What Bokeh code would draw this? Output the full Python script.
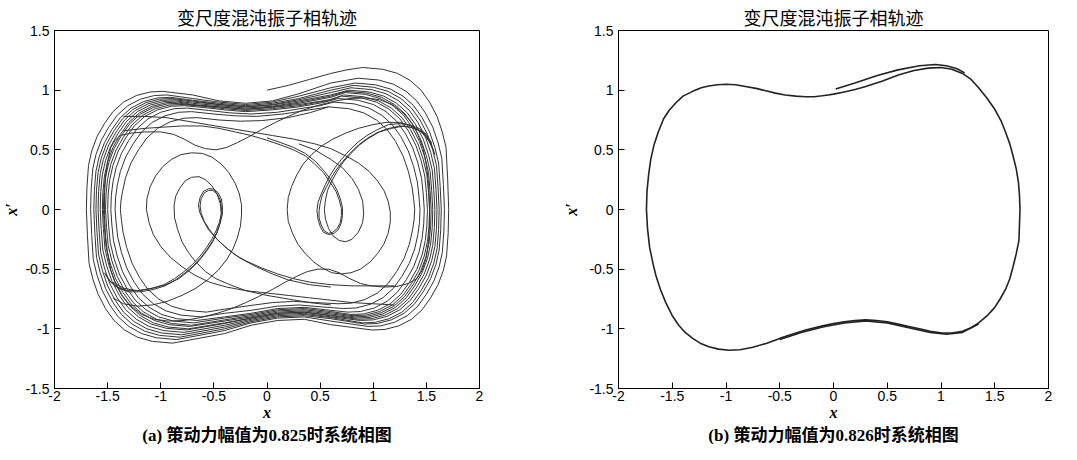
from bokeh.plotting import figure
from bokeh.models import Range1d, FixedTicker, Title
from bokeh.layouts import row
from bokeh.embed import file_html
from bokeh.resources import INLINE

# ---------------- data ----------------
chart_title = "变尺度混沌振子相轨迹"
caption_a = "(a) 策动力幅值为0.825时系统相图"
caption_b = "(b) 策动力幅值为0.826时系统相图"
x_label = "x"
y_label = "x′"
x_ticks = [-2, -1.5, -1, -0.5, 0, 0.5, 1, 1.5, 2]
x_tick_labels = ["-2", "-1.5", "-1", "-0.5", "0", "0.5", "1", "1.5", "2"]
y_ticks = [-1.5, -1, -0.5, 0, 0.5, 1, 1.5]
y_tick_labels = ["-1.5", "-1", "-0.5", "0", "0.5", "1", "1.5"]

# (a) amplitude 0.825 -- chaotic trajectory (x, x')
a_start = [(0.0, 1.0), (0.2, 1.04), (0.4, 1.09), (0.6, 1.14), (0.75, 1.17), (0.9, 1.19)]
a_band_1 = [(0.90, 1.19), (1.09, 1.175), (1.23, 1.14), (1.35, 1.08), (1.45, 1.00), (1.53, 0.90), (1.60, 0.78),
            (1.65, 0.65), (1.685, 0.52), (1.70, 0.26), (1.71, 0.0), (1.705, -0.2), (1.69, -0.39), (1.66, -0.51),
            (1.61, -0.63), (1.54, -0.74), (1.46, -0.84), (1.36, -0.92), (1.24, -0.975), (1.11, -1.005),
            (0.99, -1.01), (0.6, -0.965), (0.35, -0.92), (0.1, -0.93), (-0.15, -0.97), (-0.4, -1.04),
            (-0.89, -1.12), (-1.08, -1.105), (-1.22, -1.07), (-1.34, -1.01), (-1.44, -0.93), (-1.52, -0.83),
            (-1.59, -0.71), (-1.64, -0.58), (-1.675, -0.45), (-1.69, -0.22), (-1.70, 0.0), (-1.695, 0.18),
            (-1.68, 0.37), (-1.65, 0.49), (-1.60, 0.61), (-1.53, 0.72), (-1.45, 0.82), (-1.35, 0.90),
            (-1.23, 0.955), (-1.10, 0.985), (-0.98, 0.99), (-0.7, 0.96), (-0.45, 0.91), (-0.2, 0.89),
            (0.05, 0.91), (0.3, 0.97), (0.6, 1.06), (0.86, 1.10)]
a_band_2 = [(0.86, 1.10), (1.05, 1.085), (1.19, 1.05), (1.31, 0.99), (1.41, 0.91), (1.49, 0.81), (1.56, 0.69),
            (1.61, 0.56), (1.645, 0.43), (1.66, 0.21), (1.67, 0.0), (1.665, -0.18), (1.65, -0.36), (1.62, -0.48),
            (1.57, -0.60), (1.50, -0.71), (1.42, -0.81), (1.32, -0.89), (1.20, -0.945), (1.07, -0.975),
            (0.95, -0.98), (0.6, -0.935), (0.35, -0.90), (0.1, -0.91), (-0.15, -0.95), (-0.4, -1.015),
            (-0.85, -1.09), (-1.04, -1.075), (-1.18, -1.04), (-1.30, -0.98), (-1.40, -0.90), (-1.48, -0.80),
            (-1.55, -0.68), (-1.60, -0.55), (-1.635, -0.42), (-1.65, -0.21), (-1.66, 0.0), (-1.655, 0.17),
            (-1.64, 0.34), (-1.61, 0.46), (-1.56, 0.58), (-1.49, 0.69), (-1.41, 0.79), (-1.31, 0.87),
            (-1.19, 0.925), (-1.06, 0.955), (-0.94, 0.96), (-0.7, 0.93), (-0.45, 0.90), (-0.2, 0.88),
            (0.05, 0.90), (0.3, 0.95), (0.6, 1.02), (0.83, 1.06)]
a_band_3 = [(0.83, 1.06), (1.02, 1.045), (1.16, 1.01), (1.28, 0.95), (1.38, 0.87), (1.46, 0.77), (1.53, 0.65),
            (1.58, 0.52), (1.615, 0.39), (1.63, 0.19), (1.64, 0.0), (1.635, -0.17), (1.62, -0.34), (1.59, -0.46),
            (1.54, -0.58), (1.47, -0.69), (1.39, -0.79), (1.29, -0.87), (1.17, -0.925), (1.04, -0.955),
            (0.92, -0.96), (0.6, -0.915), (0.35, -0.89), (0.1, -0.90), (-0.15, -0.94), (-0.4, -1.0),
            (-0.82, -1.07), (-1.01, -1.055), (-1.15, -1.02), (-1.27, -0.96), (-1.37, -0.88), (-1.45, -0.78),
            (-1.52, -0.66), (-1.57, -0.53), (-1.605, -0.40), (-1.62, -0.2), (-1.63, 0.0), (-1.625, 0.16),
            (-1.61, 0.32), (-1.58, 0.44), (-1.53, 0.56), (-1.46, 0.67), (-1.38, 0.77), (-1.28, 0.85),
            (-1.16, 0.905), (-1.03, 0.935), (-0.91, 0.94), (-0.7, 0.915), (-0.45, 0.89), (-0.2, 0.87),
            (0.05, 0.89), (0.3, 0.93), (0.6, 1.0), (0.81, 1.04)]
a_band_4 = [(0.81, 1.04), (1.0, 1.025), (1.14, 0.99), (1.26, 0.93), (1.36, 0.85), (1.44, 0.75), (1.51, 0.63),
            (1.56, 0.50), (1.595, 0.37), (1.61, 0.18), (1.62, 0.0), (1.615, -0.17), (1.60, -0.33), (1.57, -0.45),
            (1.52, -0.57), (1.45, -0.68), (1.37, -0.78), (1.27, -0.86), (1.15, -0.915), (1.02, -0.945),
            (0.90, -0.95), (0.6, -0.905), (0.35, -0.88), (0.1, -0.89), (-0.15, -0.93), (-0.4, -0.985),
            (-0.80, -1.05), (-0.99, -1.035), (-1.13, -1.0), (-1.25, -0.94), (-1.35, -0.86), (-1.43, -0.76),
            (-1.50, -0.64), (-1.55, -0.51), (-1.585, -0.38), (-1.60, -0.19), (-1.61, 0.0), (-1.605, 0.16),
            (-1.59, 0.31), (-1.56, 0.43), (-1.51, 0.55), (-1.44, 0.66), (-1.36, 0.76), (-1.26, 0.84),
            (-1.14, 0.895), (-1.01, 0.925), (-0.89, 0.93), (-0.7, 0.91), (-0.45, 0.88), (-0.2, 0.86),
            (0.05, 0.88), (0.3, 0.92), (0.6, 0.98), (0.79, 1.02)]
a_band_5 = [(0.79, 1.02), (0.98, 1.005), (1.12, 0.97), (1.24, 0.91), (1.34, 0.83), (1.42, 0.73), (1.49, 0.61),
            (1.54, 0.48), (1.575, 0.35), (1.59, 0.17), (1.60, 0.0), (1.595, -0.16), (1.58, -0.31), (1.55, -0.43),
            (1.50, -0.55), (1.43, -0.66), (1.35, -0.76), (1.25, -0.84), (1.13, -0.895), (1.0, -0.925),
            (0.88, -0.93), (0.6, -0.90), (0.35, -0.87), (0.1, -0.88), (-0.15, -0.92), (-0.4, -0.97),
            (-0.78, -1.03), (-0.97, -1.015), (-1.11, -0.98), (-1.23, -0.92), (-1.33, -0.84), (-1.41, -0.74),
            (-1.48, -0.62), (-1.53, -0.49), (-1.565, -0.36), (-1.58, -0.18), (-1.59, 0.0), (-1.585, 0.15),
            (-1.57, 0.30), (-1.54, 0.42), (-1.49, 0.54), (-1.42, 0.65), (-1.34, 0.75), (-1.24, 0.83),
            (-1.12, 0.885), (-0.99, 0.915), (-0.87, 0.92), (-0.7, 0.90), (-0.45, 0.88), (-0.2, 0.86),
            (0.05, 0.875), (0.3, 0.91), (0.6, 0.96), (0.77, 1.0)]
a_band_6 = [(0.77, 1.0), (0.96, 0.985), (1.10, 0.95), (1.22, 0.89), (1.32, 0.81), (1.40, 0.71), (1.47, 0.59),
            (1.52, 0.46), (1.555, 0.33), (1.57, 0.16), (1.58, 0.0), (1.575, -0.15), (1.56, -0.30), (1.53, -0.42),
            (1.48, -0.54), (1.41, -0.65), (1.33, -0.75), (1.23, -0.83), (1.11, -0.885), (0.98, -0.915),
            (0.86, -0.92), (0.6, -0.89), (0.35, -0.86), (0.1, -0.87), (-0.15, -0.91), (-0.4, -0.955),
            (-0.76, -1.01), (-0.95, -0.995), (-1.09, -0.96), (-1.21, -0.90), (-1.31, -0.82), (-1.39, -0.72),
            (-1.46, -0.60), (-1.51, -0.47), (-1.545, -0.34), (-1.56, -0.17), (-1.57, 0.0), (-1.565, 0.15),
            (-1.55, 0.29), (-1.52, 0.41), (-1.47, 0.53), (-1.40, 0.64), (-1.32, 0.74), (-1.22, 0.82),
            (-1.10, 0.875), (-0.97, 0.905), (-0.85, 0.91), (-0.7, 0.89), (-0.45, 0.87), (-0.2, 0.85),
            (0.05, 0.865), (0.3, 0.90), (0.6, 0.95), (0.75, 0.99)]
a_band_7 = [(0.75, 0.99), (0.94, 0.975), (1.08, 0.94), (1.20, 0.88), (1.30, 0.80), (1.38, 0.70), (1.45, 0.58),
            (1.50, 0.45), (1.535, 0.32), (1.55, 0.16), (1.56, 0.0), (1.555, -0.15), (1.54, -0.29), (1.51, -0.41),
            (1.46, -0.53), (1.39, -0.64), (1.31, -0.74), (1.21, -0.82), (1.09, -0.875), (0.96, -0.905),
            (0.84, -0.91), (0.6, -0.885), (0.35, -0.86), (0.1, -0.87), (-0.15, -0.91), (-0.4, -0.95),
            (-0.74, -1.0), (-0.93, -0.985), (-1.07, -0.95), (-1.19, -0.89), (-1.29, -0.81), (-1.37, -0.71),
            (-1.44, -0.59), (-1.49, -0.46), (-1.525, -0.33), (-1.54, -0.16), (-1.55, 0.0), (-1.545, 0.14),
            (-1.53, 0.28), (-1.50, 0.40), (-1.45, 0.52), (-1.38, 0.63), (-1.30, 0.73), (-1.20, 0.81),
            (-1.08, 0.865), (-0.95, 0.895), (-0.83, 0.90), (-0.7, 0.88), (-0.45, 0.86), (-0.2, 0.84),
            (0.05, 0.86), (0.3, 0.89), (0.6, 0.94), (0.735, 0.98)]
a_band_8 = [(0.735, 0.98), (0.925, 0.965), (1.065, 0.93), (1.185, 0.87), (1.285, 0.79), (1.365, 0.69),
            (1.435, 0.57), (1.485, 0.44), (1.52, 0.31), (1.535, 0.15), (1.545, 0.0), (1.54, -0.14),
            (1.525, -0.28), (1.495, -0.40), (1.445, -0.52), (1.375, -0.63), (1.295, -0.73), (1.195, -0.81),
            (1.075, -0.865), (0.945, -0.895), (0.825, -0.90), (0.6, -0.875), (0.35, -0.85), (0.1, -0.86),
            (-0.15, -0.90), (-0.4, -0.935), (-0.73, -0.98), (-0.92, -0.965), (-1.06, -0.93), (-1.18, -0.87),
            (-1.28, -0.79), (-1.36, -0.69), (-1.43, -0.57), (-1.48, -0.44), (-1.515, -0.31), (-1.53, -0.15),
            (-1.54, 0.0), (-1.535, 0.14), (-1.52, 0.27), (-1.49, 0.39), (-1.44, 0.51), (-1.37, 0.62),
            (-1.29, 0.72), (-1.19, 0.80), (-1.07, 0.855), (-0.94, 0.885), (-0.82, 0.89), (-0.7, 0.875),
            (-0.45, 0.86), (-0.2, 0.84), (0.05, 0.855), (0.3, 0.88), (0.6, 0.92), (0.72, 0.96)]
a_band_9 = [(0.72, 0.96), (0.91, 0.945), (1.05, 0.91), (1.17, 0.85), (1.27, 0.77), (1.35, 0.67), (1.42, 0.55),
            (1.47, 0.42), (1.505, 0.29), (1.52, 0.14), (1.53, 0.0), (1.525, -0.14), (1.51, -0.27), (1.48, -0.39),
            (1.43, -0.51), (1.36, -0.62), (1.28, -0.72), (1.18, -0.80), (1.06, -0.855), (0.93, -0.885),
            (0.81, -0.89), (0.6, -0.865), (0.35, -0.84), (0.1, -0.85), (-0.15, -0.89), (-0.4, -0.925),
            (-0.71, -0.97), (-0.90, -0.955), (-1.04, -0.92), (-1.16, -0.86), (-1.26, -0.78), (-1.34, -0.68),
            (-1.41, -0.56), (-1.46, -0.43), (-1.495, -0.30), (-1.51, -0.15), (-1.52, 0.0), (-1.515, 0.13),
            (-1.50, 0.26), (-1.47, 0.38), (-1.42, 0.50), (-1.35, 0.61), (-1.27, 0.71), (-1.17, 0.79),
            (-1.05, 0.845), (-0.92, 0.875), (-0.80, 0.88), (-0.6, 0.865), (-0.4, 0.845), (-0.2, 0.83),
            (0.05, 0.845), (0.3, 0.87), (0.55, 0.91), (0.70, 0.95)]
a_band_10 = [(0.70, 0.95), (0.89, 0.935), (1.03, 0.90), (1.15, 0.84), (1.25, 0.76), (1.33, 0.66), (1.40, 0.54),
             (1.45, 0.41), (1.485, 0.28), (1.50, 0.14), (1.51, 0.0), (1.505, -0.13), (1.49, -0.26),
             (1.46, -0.38), (1.41, -0.50), (1.34, -0.61), (1.26, -0.71), (1.16, -0.79), (1.04, -0.845),
             (0.91, -0.875), (0.79, -0.88), (0.6, -0.855), (0.35, -0.83), (0.1, -0.84), (-0.15, -0.88),
             (-0.4, -0.91), (-0.69, -0.95), (-0.88, -0.935), (-1.02, -0.90), (-1.14, -0.84), (-1.24, -0.76),
             (-1.32, -0.66), (-1.39, -0.54), (-1.44, -0.41), (-1.475, -0.28), (-1.49, -0.14), (-1.50, 0.0),
             (-1.495, 0.13), (-1.48, 0.25), (-1.45, 0.37), (-1.40, 0.49), (-1.33, 0.60), (-1.25, 0.70),
             (-1.15, 0.78), (-1.03, 0.835), (-0.90, 0.865), (-0.78, 0.87), (-0.6, 0.855), (-0.4, 0.835),
             (-0.2, 0.82), (0.05, 0.835), (0.3, 0.86), (0.52, 0.895), (0.67, 0.93)]
a_band_11 = [(0.67, 0.93), (0.86, 0.915), (1.0, 0.88), (1.12, 0.82), (1.22, 0.74), (1.30, 0.64), (1.37, 0.52),
             (1.42, 0.39), (1.455, 0.26), (1.47, 0.13), (1.48, 0.0), (1.475, -0.12), (1.46, -0.24),
             (1.43, -0.36), (1.38, -0.48), (1.31, -0.59), (1.23, -0.69), (1.13, -0.77), (1.01, -0.825),
             (0.88, -0.855), (0.76, -0.86), (0.55, -0.84), (0.35, -0.82), (0.1, -0.83), (-0.15, -0.87),
             (-0.4, -0.90), (-0.66, -0.93), (-0.85, -0.915), (-0.99, -0.88), (-1.11, -0.82), (-1.21, -0.74),
             (-1.29, -0.64), (-1.36, -0.52), (-1.41, -0.39), (-1.445, -0.26), (-1.46, -0.13), (-1.47, 0.0),
             (-1.465, 0.12), (-1.45, 0.23), (-1.42, 0.35), (-1.37, 0.47), (-1.30, 0.58), (-1.22, 0.68),
             (-1.12, 0.76), (-1.0, 0.815), (-0.87, 0.845), (-0.75, 0.85), (-0.55, 0.83), (-0.35, 0.81),
             (-0.15, 0.80), (0.1, 0.815), (0.35, 0.85), (0.5, 0.87), (0.63, 0.90)]
a_band_12 = [(0.63, 0.90), (0.82, 0.885), (0.96, 0.85), (1.08, 0.79), (1.18, 0.71), (1.26, 0.61), (1.33, 0.49),
             (1.38, 0.36), (1.415, 0.23), (1.43, 0.11), (1.44, 0.0), (1.435, -0.11), (1.42, -0.21),
             (1.39, -0.33), (1.34, -0.45), (1.27, -0.56), (1.19, -0.66), (1.09, -0.74), (0.97, -0.795),
             (0.84, -0.825), (0.72, -0.83), (0.5, -0.815), (0.3, -0.80), (0.1, -0.81), (-0.15, -0.845),
             (-0.4, -0.87), (-0.62, -0.90), (-0.81, -0.885), (-0.95, -0.85), (-1.07, -0.79), (-1.17, -0.71),
             (-1.25, -0.61), (-1.32, -0.49), (-1.37, -0.36), (-1.405, -0.23), (-1.42, -0.11), (-1.43, 0.0),
             (-1.425, 0.1), (-1.41, 0.20), (-1.38, 0.32), (-1.33, 0.44), (-1.26, 0.55), (-1.18, 0.65),
             (-1.08, 0.73), (-0.96, 0.785), (-0.83, 0.815), (-0.71, 0.82), (-0.5, 0.80), (-0.3, 0.785),
             (-0.1, 0.78), (0.15, 0.80), (0.4, 0.835), (0.58, 0.86)]
a_band_13 = [(0.58, 0.86), (0.77, 0.845), (0.91, 0.81), (1.03, 0.75), (1.13, 0.67), (1.21, 0.57), (1.28, 0.45),
             (1.33, 0.32), (1.365, 0.19), (1.38, 0.09), (1.39, 0.0), (1.385, -0.08), (1.37, -0.17),
             (1.34, -0.29), (1.29, -0.41), (1.22, -0.52), (1.14, -0.62), (1.04, -0.70), (0.92, -0.755),
             (0.79, -0.785), (0.67, -0.79), (0.45, -0.78), (0.25, -0.77), (0.05, -0.78), (-0.2, -0.81),
             (-0.4, -0.835), (-0.57, -0.86), (-0.76, -0.845), (-0.90, -0.81), (-1.02, -0.75), (-1.12, -0.67),
             (-1.20, -0.57), (-1.27, -0.45), (-1.32, -0.32), (-1.355, -0.19), (-1.37, -0.09), (-1.38, 0.0),
             (-1.375, 0.07), (-1.36, 0.15), (-1.33, 0.27), (-1.28, 0.39), (-1.21, 0.50), (-1.13, 0.60),
             (-1.03, 0.68), (-0.91, 0.735), (-0.78, 0.765), (-0.66, 0.77), (-0.45, 0.75), (-0.25, 0.74),
             (-0.05, 0.745), (0.2, 0.77), (0.4, 0.81), (0.58, 0.86)]
# S-shaped revolution crossing the middle of (a)
a_s_loop = [(-1.47, 0.52), (-1.43, 0.58), (-1.38, 0.62), (-1.28, 0.64), (-1.15, 0.65), (-1.0, 0.65),
            (-0.88, 0.63), (-0.78, 0.59), (-0.68, 0.54), (-0.58, 0.51), (-0.48, 0.50), (-0.38, 0.52),
            (-0.28, 0.56), (-0.17, 0.61), (-0.05, 0.67), (0.08, 0.73), (0.2, 0.78), (0.33, 0.83), (0.47, 0.87),
            (0.62, 0.905), (0.78, 0.93), (0.93, 0.935), (1.06, 0.92), (1.18, 0.88), (1.28, 0.81), (1.36, 0.73),
            (1.42, 0.63), (1.47, 0.51), (1.50, 0.37), (1.52, 0.22), (1.53, 0.05), (1.53, -0.12), (1.52, -0.27),
            (1.50, -0.40), (1.46, -0.51), (1.41, -0.58), (1.33, -0.62), (1.22, -0.645), (1.10, -0.65),
            (0.98, -0.64), (0.88, -0.62), (0.78, -0.58), (0.68, -0.53), (0.58, -0.50), (0.48, -0.50),
            (0.38, -0.52), (0.28, -0.56), (0.17, -0.61), (0.05, -0.67), (-0.08, -0.73), (-0.2, -0.78),
            (-0.33, -0.83), (-0.47, -0.87), (-0.62, -0.905), (-0.78, -0.93), (-0.93, -0.935), (-1.06, -0.92),
            (-1.18, -0.88), (-1.28, -0.81), (-1.36, -0.73), (-1.42, -0.63), (-1.47, -0.51), (-1.50, -0.37),
            (-1.52, -0.22), (-1.53, -0.05), (-1.53, 0.12), (-1.52, 0.27), (-1.50, 0.40), (-1.47, 0.52)]
# right well of (a)
a_right_tight_1 = [(-1.35, 0.66), (-1.15, 0.68), (-0.98, 0.69), (-0.8, 0.70), (-0.61, 0.70), (-0.45, 0.68),
                   (-0.30, 0.65), (-0.15, 0.62), (0.0, 0.58), (0.13, 0.54), (0.25, 0.50), (0.36, 0.45),
                   (0.45, 0.38), (0.53, 0.31), (0.60, 0.22), (0.65, 0.15), (0.68, 0.08), (0.70, 0.01),
                   (0.70, -0.05), (0.69, -0.11), (0.66, -0.16), (0.62, -0.19), (0.58, -0.20), (0.54, -0.18),
                   (0.51, -0.13), (0.49, -0.07), (0.49, -0.01), (0.50, 0.05), (0.52, 0.12), (0.56, 0.19),
                   (0.60, 0.26), (0.65, 0.33), (0.71, 0.40), (0.78, 0.47), (0.86, 0.54), (0.95, 0.60),
                   (1.05, 0.65), (1.15, 0.68), (1.25, 0.70), (1.35, 0.69), (1.44, 0.66), (1.50, 0.61),
                   (1.55, 0.54), (1.58, 0.46)]
a_right_tight_2 = [(0.0, 0.60), (0.13, 0.56), (0.25, 0.52), (0.36, 0.47), (0.46, 0.40), (0.54, 0.32),
                   (0.61, 0.24), (0.66, 0.16), (0.69, 0.09), (0.71, 0.02), (0.71, -0.05), (0.70, -0.11),
                   (0.67, -0.17), (0.63, -0.20), (0.58, -0.21), (0.53, -0.19), (0.50, -0.14), (0.48, -0.08),
                   (0.47, -0.01), (0.48, 0.06), (0.51, 0.13), (0.55, 0.21), (0.59, 0.28), (0.64, 0.35),
                   (0.70, 0.42), (0.77, 0.49), (0.85, 0.56), (0.94, 0.62), (1.04, 0.67), (1.14, 0.71),
                   (1.24, 0.72), (1.34, 0.71), (1.43, 0.68), (1.50, 0.63), (1.55, 0.55)]
a_right_tight_3 = [(0.30, 0.55), (0.45, 0.50), (0.60, 0.42), (0.71, 0.35), (0.80, 0.26), (0.86, 0.17),
                   (0.90, 0.07), (0.91, -0.03), (0.90, -0.11), (0.86, -0.19), (0.80, -0.25), (0.74, -0.27),
                   (0.68, -0.26), (0.62, -0.22), (0.58, -0.16), (0.55, -0.08), (0.54, 0.0), (0.55, 0.08),
                   (0.57, 0.16), (0.61, 0.24), (0.66, 0.32), (0.72, 0.40), (0.79, 0.47), (0.87, 0.54),
                   (0.96, 0.60), (1.06, 0.65), (1.17, 0.68), (1.29, 0.70), (1.40, 0.68), (1.48, 0.64),
                   (1.55, 0.56)]
a_right_big = [(-1.35, 0.78), (-1.15, 0.78), (-0.95, 0.77), (-0.75, 0.74), (-0.55, 0.71), (-0.35, 0.68),
               (-0.15, 0.65), (0.05, 0.62), (0.25, 0.59), (0.45, 0.55), (0.60, 0.51), (0.74, 0.45), (0.86, 0.39),
               (0.96, 0.32), (1.04, 0.24), (1.10, 0.16), (1.14, 0.07), (1.16, -0.02), (1.16, -0.11),
               (1.14, -0.20), (1.10, -0.29), (1.04, -0.37), (0.97, -0.44), (0.88, -0.50), (0.79, -0.53),
               (0.70, -0.54), (0.61, -0.53), (0.52, -0.49), (0.44, -0.44), (0.36, -0.37), (0.29, -0.29),
               (0.24, -0.20), (0.20, -0.10), (0.19, 0.0), (0.20, 0.10), (0.23, 0.19), (0.28, 0.29),
               (0.34, 0.38), (0.42, 0.46), (0.51, 0.53), (0.62, 0.59), (0.74, 0.64), (0.86, 0.68),
               (0.99, 0.71), (1.12, 0.73), (1.25, 0.73), (1.36, 0.70), (1.45, 0.65), (1.52, 0.58),
               (1.57, 0.49)]
# left well of (a)
a_left_tight_1 = [(1.2, -0.64), (1.0, -0.64), (0.8, -0.64), (0.6, -0.63), (0.41, -0.61), (0.25, -0.58),
                  (0.1, -0.54), (-0.05, -0.49), (-0.2, -0.43), (-0.30, -0.38), (-0.40, -0.31), (-0.48, -0.24),
                  (-0.54, -0.17), (-0.59, -0.10), (-0.62, -0.03), (-0.63, 0.03), (-0.62, 0.09), (-0.59, 0.14),
                  (-0.55, 0.16), (-0.51, 0.16), (-0.47, 0.13), (-0.44, 0.08), (-0.43, 0.02), (-0.43, -0.04),
                  (-0.45, -0.11), (-0.48, -0.18), (-0.52, -0.25), (-0.57, -0.32), (-0.63, -0.39),
                  (-0.70, -0.46), (-0.78, -0.52), (-0.87, -0.58), (-0.97, -0.63), (-1.08, -0.66),
                  (-1.2, -0.68), (-1.31, -0.68), (-1.41, -0.65), (-1.48, -0.60), (-1.53, -0.53)]
a_left_tight_2 = [(0.6, -0.65), (0.4, -0.63), (0.2, -0.59), (0.05, -0.54), (-0.1, -0.48), (-0.25, -0.41),
                  (-0.37, -0.33), (-0.47, -0.25), (-0.55, -0.17), (-0.60, -0.09), (-0.635, -0.02),
                  (-0.645, 0.04), (-0.63, 0.10), (-0.60, 0.15), (-0.55, 0.175), (-0.50, 0.17), (-0.46, 0.14),
                  (-0.43, 0.09), (-0.42, 0.03), (-0.42, -0.04), (-0.44, -0.11), (-0.47, -0.19), (-0.51, -0.26),
                  (-0.56, -0.33), (-0.62, -0.40), (-0.69, -0.47), (-0.77, -0.53), (-0.86, -0.59),
                  (-0.96, -0.64), (-1.07, -0.67), (-1.19, -0.69), (-1.30, -0.69), (-1.40, -0.66),
                  (-1.47, -0.61), (-1.52, -0.54)]
a_left_medium = [(0.6, -0.80), (0.4, -0.78), (0.2, -0.75), (0.0, -0.72), (-0.2, -0.68), (-0.35, -0.63),
                 (-0.48, -0.58), (-0.58, -0.52), (-0.67, -0.44), (-0.74, -0.36), (-0.80, -0.27), (-0.84, -0.17),
                 (-0.87, -0.07), (-0.875, 0.03), (-0.86, 0.11), (-0.82, 0.18), (-0.77, 0.24), (-0.71, 0.27),
                 (-0.64, 0.275), (-0.58, 0.25), (-0.52, 0.20), (-0.47, 0.13), (-0.44, 0.05), (-0.43, -0.03),
                 (-0.44, -0.11), (-0.47, -0.19), (-0.51, -0.27), (-0.57, -0.35), (-0.64, -0.43), (-0.73, -0.51),
                 (-0.83, -0.58), (-0.95, -0.63), (-1.08, -0.66), (-1.22, -0.68), (-1.35, -0.66), (-1.45, -0.61)]
a_left_big = [(1.2, -0.80), (1.0, -0.79), (0.8, -0.78), (0.6, -0.76), (0.4, -0.74), (0.2, -0.72), (0.0, -0.70),
              (-0.2, -0.68), (-0.38, -0.65), (-0.54, -0.61), (-0.68, -0.55), (-0.80, -0.48), (-0.91, -0.40),
              (-1.0, -0.31), (-1.07, -0.21), (-1.11, -0.11), (-1.135, 0.0), (-1.13, 0.09), (-1.10, 0.19),
              (-1.05, 0.28), (-0.98, 0.36), (-0.90, 0.42), (-0.81, 0.46), (-0.71, 0.475), (-0.61, 0.47),
              (-0.52, 0.44), (-0.43, 0.38), (-0.36, 0.31), (-0.30, 0.22), (-0.26, 0.13), (-0.24, 0.04),
              (-0.24, -0.05), (-0.25, -0.14), (-0.28, -0.24), (-0.32, -0.33), (-0.38, -0.42), (-0.46, -0.51),
              (-0.56, -0.59), (-0.67, -0.66), (-0.80, -0.72), (-0.94, -0.77), (-1.08, -0.80), (-1.22, -0.81),
              (-1.35, -0.79), (-1.45, -0.74)]

# (b) amplitude 0.826 -- large periodic orbit (x, x')
b_start = [(0.02, 1.01), (0.2, 1.06), (0.4, 1.12), (0.6, 1.17), (0.8, 1.205), (0.95, 1.215), (1.05, 1.205),
           (1.15, 1.18), (1.22, 1.145)]
b_orbit = [(1.0, 1.19), (1.1, 1.175), (1.2, 1.14), (1.28, 1.09), (1.35, 1.02), (1.43, 0.93), (1.5, 0.84),
           (1.56, 0.74), (1.6, 0.65), (1.64, 0.55), (1.67, 0.45), (1.70, 0.34), (1.72, 0.23), (1.73, 0.12),
           (1.735, 0.0), (1.73, -0.13), (1.725, -0.26), (1.70, -0.37), (1.67, -0.48), (1.64, -0.58),
           (1.60, -0.67), (1.55, -0.75), (1.50, -0.82), (1.43, -0.89), (1.35, -0.95), (1.28, -0.99),
           (1.2, -1.02), (1.1, -1.035), (1.01, -1.035), (0.9, -1.02), (0.8, -1.0), (0.7, -0.98),
           (0.6, -0.96), (0.5, -0.94), (0.4, -0.93), (0.3, -0.925), (0.2, -0.93), (0.1, -0.94),
           (0.0, -0.955), (-0.1, -0.975), (-0.26, -1.01), (-0.4, -1.05), (-0.5, -1.08), (-0.62, -1.12),
           (-0.75, -1.155), (-0.87, -1.175), (-0.97, -1.18), (-1.07, -1.17), (-1.16, -1.15),
           (-1.24, -1.12), (-1.31, -1.08), (-1.38, -1.03), (-1.44, -0.97), (-1.5, -0.89), (-1.56, -0.78),
           (-1.61, -0.67), (-1.65, -0.56), (-1.68, -0.45), (-1.71, -0.32), (-1.73, -0.16), (-1.74, 0.0),
           (-1.735, 0.15), (-1.72, 0.29), (-1.70, 0.42), (-1.67, 0.54), (-1.63, 0.65), (-1.58, 0.76),
           (-1.53, 0.83), (-1.47, 0.89), (-1.40, 0.95), (-1.31, 0.99), (-1.23, 1.02), (-1.16, 1.035),
           (-1.08, 1.045), (-1.0, 1.05), (-0.91, 1.045), (-0.82, 1.03), (-0.72, 1.015), (-0.63, 0.995),
           (-0.54, 0.975), (-0.45, 0.96), (-0.35, 0.95), (-0.26, 0.945), (-0.18, 0.945), (-0.105, 0.953),
           (-0.05, 0.96), (0.0, 0.967), (0.1, 0.985), (0.2, 1.005), (0.3, 1.03), (0.45, 1.075),
           (0.61, 1.13), (0.75, 1.165), (0.88, 1.185), (1.0, 1.19)]
b_second_pass = [(1.35, -0.96), (1.2, -1.03), (1.05, -1.045), (0.9, -1.03), (0.7, -0.99), (0.5, -0.95),
                 (0.3, -0.935), (0.1, -0.95), (-0.1, -0.985), (-0.3, -1.03), (-0.5, -1.09)]

curves_a = [a_start, a_band_1, a_band_2, a_band_3, a_band_4, a_band_5, a_band_6, a_band_7, a_band_8,
            a_band_9, a_band_10, a_band_11, a_band_12, a_band_13, a_s_loop,
            a_right_tight_1, a_right_tight_2, a_right_tight_3, a_right_big,
            a_left_tight_1, a_left_tight_2, a_left_medium, a_left_big]
curves_b = [b_start, b_orbit, b_second_pass]

TICK_FONT = "Liberation Sans"
SERIF = "Liberation Serif, Noto Sans CJK SC"


def make_panel(curves, caption, width, left, right, ylab_standoff, lw, color):
    p = figure(width=width, height=444, x_range=Range1d(-2, 2), y_range=Range1d(-1.5, 1.5),
               output_backend="svg", toolbar_location=None,
               min_border_left=left, min_border_right=right, min_border_top=25, min_border_bottom=54)
    p.title.text = chart_title
    p.title.align = "center"
    p.title.text_font = "Noto Sans CJK SC"
    p.title.text_font_size = "18px"
    p.title.text_font_style = "normal"
    p.title.text_color = "black"
    p.title.standoff = 2
    p.add_layout(Title(text=caption, align="center", text_font=SERIF, text_font_size="17px",
                       text_font_style="bold", text_color="black", standoff=0), "below")
    p.xgrid.visible = False
    p.ygrid.visible = False
    p.outline_line_color = "black"
    p.outline_line_width = 1
    for ax, ticks, labels in ((p.xaxis[0], x_ticks, x_tick_labels), (p.yaxis[0], y_ticks, y_tick_labels)):
        ax.ticker = FixedTicker(ticks=ticks)
        ax.major_label_overrides = {t: l for t, l in zip(ticks, labels)}
        ax.major_tick_in = 6
        ax.major_tick_out = 0
        ax.minor_tick_line_color = None
        ax.axis_line_color = "black"
        ax.major_tick_line_color = "black"
        ax.major_label_text_font = TICK_FONT
        ax.major_label_text_font_size = "14px"
        ax.major_label_text_color = "black"
        ax.axis_label_text_font = "Liberation Serif"
        ax.axis_label_text_font_style = "bold italic"
        ax.axis_label_text_font_size = "16px"
        ax.axis_label_text_color = "black"
    p.xaxis.major_label_standoff = 2
    p.yaxis.major_label_standoff = 5
    p.xaxis.axis_label = x_label
    p.xaxis.axis_label_standoff = 0
    p.yaxis.axis_label = y_label
    p.yaxis.axis_label_standoff = ylab_standoff
    xs = [[pt[0] for pt in c] for c in curves]
    ys = [[pt[1] for pt in c] for c in curves]
    p.multi_line(xs, ys, line_color=color, line_width=lw, line_join="round")
    return p


pa = make_panel(curves_a, caption_a, 530, 49, 51, 2, 1, "#333333")
pb = make_panel(curves_b, caption_b, 525, 88, 7, 6, 1.6, "#222222")

layout = row(pa, pb)
open("out.html", "w").write(file_html(layout, INLINE))
